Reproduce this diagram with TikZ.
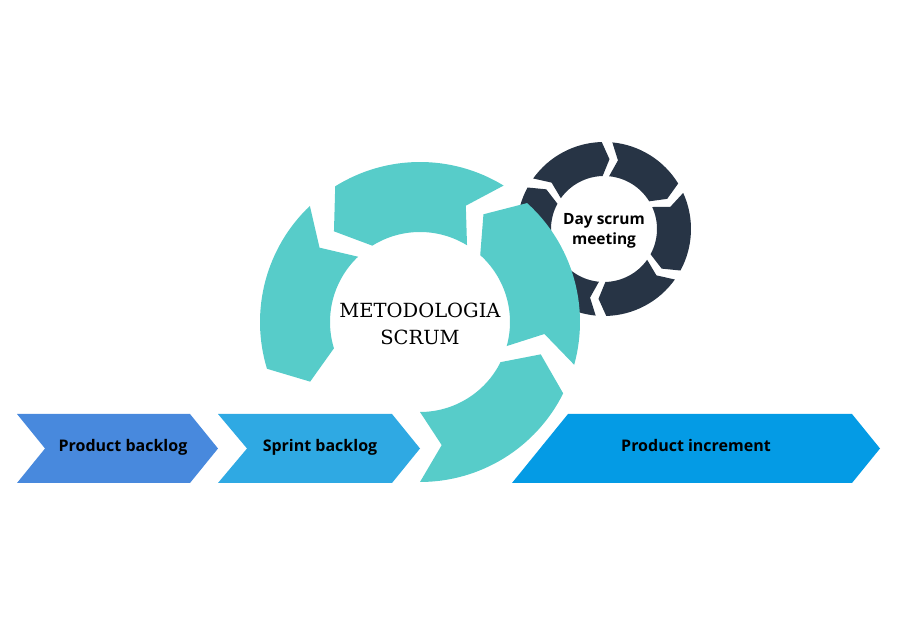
\documentclass[tikz,border=0pt]{standalone}
\usepackage{fontspec}
\setmainfont{Open Sans}
\newfontfamily\slabfont{DejaVu Serif}
\definecolor{tealc}{HTML}{57CCC9}
\definecolor{darkc}{HTML}{273445}
\definecolor{pbc}{HTML}{4889DD}
\definecolor{sbc}{HTML}{2FA9E3}
\definecolor{pic}{HTML}{049BE5}
\tikzset{
  lbl/.style={font=\bfseries\fontsize{16}{19}\selectfont, text=black, inner sep=0pt, anchor=base},
  daylbl/.style={font=\bfseries\fontsize{15.5}{20}\selectfont, text=black, inner sep=0pt, align=center},
  mslbl/.style={font=\slabfont\fontsize{19.5}{27}\selectfont, text=black, inner sep=0pt, align=center}
}
\begin{document}
\begin{tikzpicture}[x=1pt,y=1pt]
\useasboundingbox (0,0) rectangle (897,626);
% small dark ring (clockwise arrows)
\begin{scope}[shift={(604,397)}]
\foreach \g in {88,28,-32,-92,-152,148}{
  \fill[darkc] ({\g-3.5}:87) arc[start angle={\g-3.5}, end angle={\g-56.5}, radius=87]
    -- ({\g-62.5}:70) -- ({\g-56.5}:53)
    arc[start angle={\g-56.5}, end angle={\g-3.5}, radius=53]
    -- ({\g-9.5}:70) -- cycle;
}
\end{scope}
% big teal ring (counter-clockwise arrows)
\begin{scope}[shift={(420,304)}]
\foreach \t in {270,344.5,418.5,493.5}{
  \fill[tealc] (\t:160) arc[start angle=\t, end angle={\t+63.5}, radius=160]
    -- ({\t+75}:125) -- ({\t+63.5}:90)
    arc[start angle={\t+63.5}, end angle=\t, radius=90]
    -- ({\t+10}:125) -- cycle;
}
\end{scope}
% bottom chevrons
\fill[pbc] (17,212) -- (190,212) -- (218,177.5) -- (190,143) -- (17,143) -- (45,177.5) -- cycle;
\fill[sbc] (218,212) -- (392,212) -- (420,177.5) -- (392,143) -- (218,143) -- (247,177.5) -- cycle;
\fill[pic] (568,212) -- (852,212) -- (880,177.5) -- (852,143) -- (512,143) -- cycle;
% labels
\node[lbl] (pbl) at (123,174) {Product backlog};
\node[lbl] (sbl) at (320,174) {Sprint backlog};
\node[lbl] (pil) at (696,174) {Product increment};
\node[mslbl] (ms) at (420,302) {METODOLOGIA\\SCRUM};
\node[daylbl] (day) at (604,395) {Day scrum\\meeting};
\end{tikzpicture}
\end{document}
